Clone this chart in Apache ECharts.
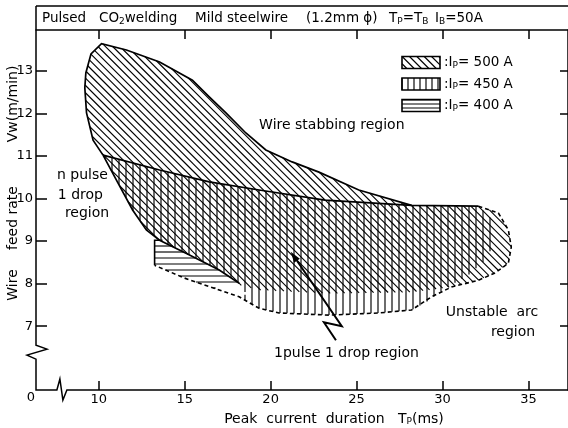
<!DOCTYPE html>
<html><head><meta charset="utf-8">
<script src="https://cdn.jsdelivr.net/npm/echarts@6/dist/echarts.min.js"></script>
<style>html,body{margin:0;padding:0;background:#fff}#c{width:568px;height:428px}</style>
</head><body><div id="c"></div>
<script>
// ---- data ----
const xTicks = [10, 15, 20, 25, 30, 35];
const yTicks = [7, 8, 9, 10, 11, 12, 13];
// upper boundary of wire stabbing region (I_P = 500 A), peak -> junction
const stabbingBoundary = [[10.16,13.64],[11.61,13.49],[13.54,13.21],[15.45,12.78],[16.43,12.39],[17.40,12.01],[18.56,11.54],[19.72,11.14],[21.25,10.86],[22.81,10.62],[25.13,10.20],[28.20,9.84]];
// left edge of 500 A region, from peak down
const leftEdge500 = [[10.16,13.64],[9.55,13.40],[9.25,12.95],[9.19,12.60],[9.29,12.01],[9.67,11.37],[10.25,11.02]];
// separator between 500 A upper zone and the 1 pulse 1 drop zone
const separator = [[10.25,11.02],[13.54,10.67],[16.43,10.39],[19.33,10.20],[23.16,9.96],[28.20,9.84],[32.09,9.82]];
// n pulse / 1 pulse boundary
const leftBoundary = [[10.25,11.02],[11.03,10.43],[11.97,9.73],[12.77,9.26],[13.54,9.02],[15.28,8.67],[17.01,8.32],[18.17,8.01]];
// dashed outer boundary (right end and bottom)
const dashedBoundary = [[32.09,9.82],[33.25,9.66],[33.83,9.26],[34.0,8.86],[33.83,8.48],[33.06,8.25],[32.09,8.08],[30.52,7.92],[29.36,7.69],[28.20,7.38],[26.29,7.31],[23.39,7.26],[20.49,7.31],[19.33,7.42],[18.17,7.69],[16.72,7.89],[14.99,8.13],[13.25,8.43]];
// lower limit of 500 A hatch inside the 1 pulse 1 drop zone
const lower500 = [[30.52,7.92],[28.20,7.80],[23.39,7.77],[19.33,7.85],[18.17,7.97]];
// right limit of 450 A hatch
const right450 = [[32.09,9.82],[32.9,9.5],[33.0,9.0],[32.6,8.6],[31.5,8.2],[30.2,7.9],[29.0,7.55],[28.20,7.38]];
// 400 A region
const region400 = [[13.25,9.02],[13.71,9.02],[15.28,8.67],[17.01,8.32],[18.17,8.01],[16.72,7.89],[14.99,8.13],[13.25,8.43]];
// arrow (head first)
const arrow1p1d = [[21.17,8.75],[24.14,7.00],[23.10,7.09],[23.80,6.67]];

const X_MIN = 6.35, X_MAX = 37.3, Y_MIN = 5.5, Y_MAX = 13.96;

const cp = a => a.map(p => [p[0], p[1]]);
// ---- polygons built from the arrays ----
const lens500 = cp([].concat(leftEdge500, separator.slice(1), stabbingBoundary.slice().reverse().slice(0, -1)));
const lower500Poly = cp([].concat(
  separator.slice(4),
  dashedBoundary.slice(1, 8),
  lower500.slice(1),
  leftBoundary.slice().reverse().slice(1, -1),
  separator.slice(0, 4)
));
const poly450 = cp([].concat(
  separator,
  right450.slice(1),
  dashedBoundary.slice(10, 15),
  [[18.6,7.75]],
  leftBoundary.slice().reverse()
));

// hatch lines clipped to a pixel polygon
function hatch(P, kind, spacing, lw){
  let n, d;
  const r = Math.SQRT1_2;
  if (kind === 'diag') { n = [r, -r]; d = [r, r]; }
  else if (kind === 'vert') { n = [1, 0]; d = [0, 1]; }
  else { n = [0, 1]; d = [1, 0]; }
  const proj = P.map(p => p[0]*n[0] + p[1]*n[1]);
  const cmin = Math.min.apply(null, proj), cmax = Math.max.apply(null, proj);
  const out = [];
  for (let c = Math.ceil(cmin/spacing)*spacing; c <= cmax; c += spacing) {
    const ts = [];
    for (let i = 0; i < P.length; i++) {
      const a = P[i], b = P[(i+1) % P.length];
      const ua = proj[i] - c, ub = proj[(i+1) % P.length] - c;
      if ((ua > 0) !== (ub > 0)) {
        const t = ua / (ua - ub);
        const x = a[0] + t*(b[0]-a[0]), y = a[1] + t*(b[1]-a[1]);
        ts.push(x*d[0] + y*d[1]);
      }
    }
    ts.sort((u, v) => u - v);
    for (let k = 0; k + 1 < ts.length; k += 2) {
      out.push({type:'line', shape:{
        x1: c*n[0] + ts[k]*d[0], y1: c*n[1] + ts[k]*d[1],
        x2: c*n[0] + ts[k+1]*d[0], y2: c*n[1] + ts[k+1]*d[1]},
        style:{stroke:'#000', lineWidth: lw || 1.15}});
    }
  }
  return out;
}

// one custom series; each data item is one hatched region (anchored at its first vertex)
const hatchRegions = [
  {pts: lower500Poly, kind:'diag', sp:5.2, lw:1.1},
  {pts: lens500, kind:'diag', sp:5.2, lw:1.15},
  {pts: poly450, kind:'vert', sp:7, lw:1.15},
  {pts: region400, kind:'horz', sp:6, lw:1.15}
];
const hatchSeries = {type:'custom', coordinateSystem:'cartesian2d', silent:true, clip:false, z:2,
  data: hatchRegions.map(h => h.pts[0]),
  renderItem: function(params, api){
    const R = hatchRegions[params.dataIndex];
    const P = R.pts.map(p => api.coord(p));
    return {type:'group', children: hatch(P, R.kind, R.sp, R.lw)};
  }};

function lineSeries(pts, dash, width, z){
  return {type:'custom', coordinateSystem:'cartesian2d', data: cp(pts), silent:true, z: z || 5, clip:false,
    renderItem: function(params, api){
      if (params.dataIndex !== 0) return null;
      return {type:'polyline', shape:{points: pts.map(p => api.coord(p))},
        style:{stroke:'#000', lineWidth: width || 1.6, fill:'none', lineDash: dash || null}};
    }};
}
function arrowSeries(pts){
  return {type:'custom', coordinateSystem:'cartesian2d', data: cp(pts), silent:true, z: 6, clip:false,
    renderItem: function(params, api){
      if (params.dataIndex !== 0) return null;
      const P = pts.map(p => api.coord(p));
      const dx = P[1][0]-P[0][0], dy = P[1][1]-P[0][1];
      const L = Math.hypot(dx, dy), ux = dx/L, uy = dy/L;
      const hl = 11, hw = 3.5;
      const bx = P[0][0]+ux*hl, by = P[0][1]+uy*hl;
      const head = [P[0], [bx - uy*hw, by + ux*hw], [bx + uy*hw, by - ux*hw]];
      return {type:'group', children:[
        {type:'polyline', shape:{points:[[bx,by]].concat(P.slice(1))}, style:{stroke:'#000', lineWidth:2, fill:'none'}},
        {type:'polygon', shape:{points:head}, style:{fill:'#000'}}
      ]};
    }};
}

const FONT = 'DejaVu Sans';
const chart = echarts.init(document.getElementById('c'));
chart.setOption({
  animation: false,
  backgroundColor: '#fff',
  grid: {left: 36, top: 30, width: 534, height: 360, containLabel: false},
  xAxis: [
    {type:'value', min:X_MIN, max:X_MAX, position:'bottom',
      axisLine:{show:false}, splitLine:{show:false},
      axisTick:{show:true, inside:true, length:9, customValues:xTicks, lineStyle:{color:'#000', width:1.5}},
      axisLabel:{customValues:xTicks, color:'#000', fontSize:13, fontFamily:FONT, margin:3}},
    {type:'value', min:X_MIN, max:X_MAX, position:'top',
      axisLine:{show:true, onZero:false, lineStyle:{color:'#000', width:1.5}}, splitLine:{show:false},
      axisTick:{show:true, inside:true, length:9, customValues:xTicks, lineStyle:{color:'#000', width:1.5}},
      axisLabel:{show:false}}
  ],
  yAxis: [
    {type:'value', min:Y_MIN, max:Y_MAX, position:'left',
      axisLine:{show:false}, splitLine:{show:false},
      axisTick:{show:true, inside:true, length:11, customValues:yTicks, lineStyle:{color:'#000', width:1.5}},
      axisLabel:{customValues:yTicks, color:'#000', fontSize:13, fontFamily:FONT, margin:3}},
    {type:'value', min:Y_MIN, max:Y_MAX, position:'right',
      axisLine:{show:true, onZero:false, lineStyle:{color:'#000', width:1.5}}, splitLine:{show:false},
      axisTick:{show:true, inside:true, length:8, customValues:yTicks, lineStyle:{color:'#000', width:1.5}},
      axisLabel:{show:false}}
  ],
  series: [
    hatchSeries,
    lineSeries(leftEdge500.slice().reverse().concat(stabbingBoundary.slice(1)), null, 1.7),
    lineSeries(separator, null, 1.7),
    lineSeries(leftBoundary, null, 1.7),
    lineSeries(dashedBoundary, [4,3], 1.6),
    lineSeries([region400[7], region400[0], region400[1]], null, 1.6),
    arrowSeries(arrow1p1d)
  ]
});

// ---- decorations and texts ----
function px(x, y){ return chart.convertToPixel({xAxisIndex:0, yAxisIndex:0}, [x, y]); }
const g0 = px(X_MIN, Y_MIN), g1 = px(X_MAX, Y_MAX);
const gLeft = g0[0], gBottom = g0[1], gTop = g1[1], gRight = g1[0];
const yz = px(X_MIN, 6.39)[1], xz = px(7.74, Y_MIN)[0];
const axisPath = [[gLeft, gTop - 24], [gLeft, yz - 7], [gLeft + 11, yz - 3], [gLeft - 9, yz + 3], [gLeft, yz + 7],
  [gLeft, gBottom], [xz - 3, gBottom], [xz, gBottom - 11], [xz + 3, gBottom + 10], [xz + 7, gBottom], [gRight, gBottom]];

const T = (x, y, text, opt) => Object.assign({type:'text', x:x, y:y, silent:true,
  style: Object.assign({text:text, fill:'#000', font: '14px "' + FONT + '"', align:'left', verticalAlign:'middle'}, (opt||{}).style || {})},
  (opt||{}).el || {});
const rich = {s:{fontSize:9, fontFamily:FONT, verticalAlign:'bottom', padding:[6,0,0,0]}};
function dataText(x, y, text, align){
  const p = px(x, y);
  return T(p[0], p[1], text, {style:{align: align || 'left'}});
}
const TF = '13.5px "' + FONT + '"';
const legY = [62.5, 84, 105.5];
const legKind = ['diag', 'vert', 'horz'];
const legSp = [5.2, 6, 4];
const legTxt = ['500', '450', '400'];
const graphics = [
  {type:'polyline', shape:{points: axisPath}, style:{stroke:'#000', lineWidth:1.5, fill:'none'}, silent:true},
  {type:'line', shape:{x1:gLeft, y1:gTop - 24, x2:gRight, y2:gTop - 24}, style:{stroke:'#000', lineWidth:1.5}, silent:true},
  T(42, 18.5, 'Pulsed', {style:{font:TF}}),
  T(99, 18.5, 'CO{s|2}welding', {style:{font:TF, rich: rich}}),
  T(195, 18.5, 'Mild steelwire', {style:{font:TF}}),
  T(306, 18.5, '(1.2mm ϕ)', {style:{font:TF}}),
  T(389, 18.5, 'T{s|P}=T{s|B}', {style:{font:TF, rich: rich}}),
  T(435, 18.5, 'I{s|B}=50A', {style:{font:TF, rich: rich}}),
  T(31, 398, '0', {style:{align:'center', font:'13px "' + FONT + '"'}}),
  T(334, 419, 'Peak  current  duration   T{s|P}(ms)', {style:{align:'center', rich: rich}}),
  T(13, 285, 'Wire', {style:{align:'center'}, el:{rotation: Math.PI/2}}),
  T(13, 218, 'feed rate', {style:{align:'center'}, el:{rotation: Math.PI/2}}),
  T(13, 104, 'Vw(m/min)', {style:{align:'center'}, el:{rotation: Math.PI/2}}),
  dataText(19.33, 11.72, 'Wire stabbing region'),
  dataText(7.57, 10.55, 'n pulse'),
  dataText(7.62, 10.08, '1 drop'),
  dataText(8.03, 9.66, 'region'),
  dataText(35.57, 7.33, 'Unstable  arc', 'right'),
  dataText(35.39, 6.86, 'region', 'right'),
  dataText(20.2, 6.37, '1pulse 1 drop region')
];
legY.forEach((y, i) => {
  const box = [[402, y - 6], [440, y - 6], [440, y + 6], [402, y + 6]];
  graphics.push({type:'group', silent:true, children: hatch(box, legKind[i], legSp[i])});
  graphics.push({type:'rect', shape:{x:402, y:y - 6, width:38, height:12}, style:{fill:'none', stroke:'#000', lineWidth:1.6}, silent:true});
  graphics.push(T(444, y, ':I{s|P}= ' + legTxt[i] + ' A', {style:{rich: rich, font:'13.5px "' + FONT + '"'}}));
});
chart.setOption({graphic: graphics});
</script>
</body></html>
